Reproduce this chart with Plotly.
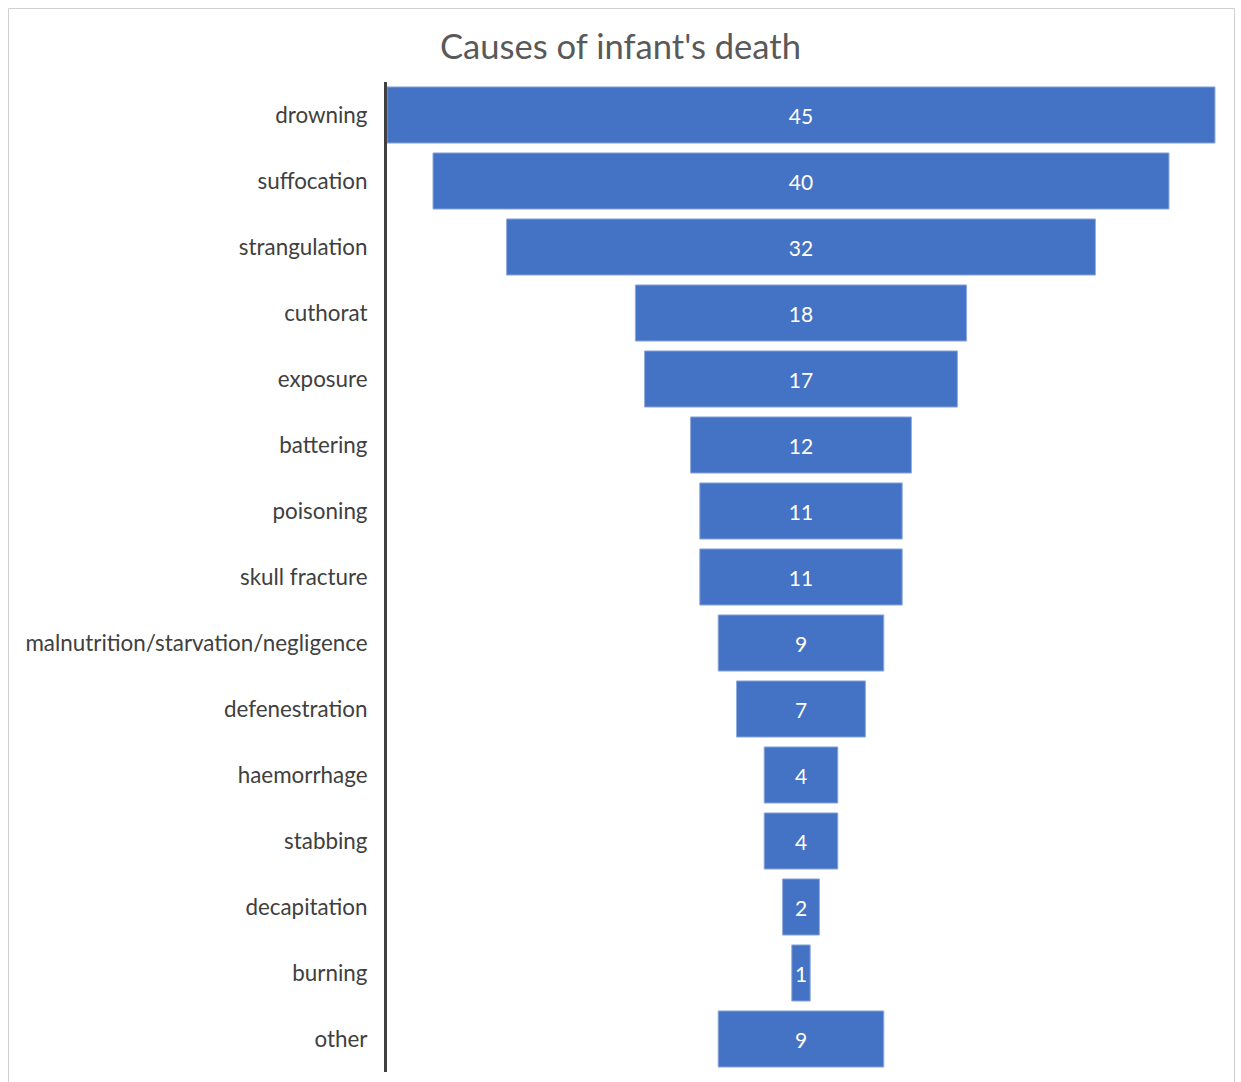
import plotly.graph_objects as go

categories = ["drowning", "suffocation", "strangulation", "cuthorat", "exposure",
              "battering", "poisoning", "skull fracture",
              "malnutrition/starvation/negligence", "defenestration", "haemorrhage",
              "stabbing", "decapitation", "burning", "other"]
values = [45, 40, 32, 18, 17, 12, 11, 11, 9, 7, 4, 4, 2, 1, 9]
title_text = "Causes of infant's death"

W, H = 1241, 1082
ML, MR, MT, MB = 387, 24, 82, 10
pw, ph = W - ML - MR, H - MT - MB

def px_x(p):
    return (p - ML) / pw

def px_y(p):
    return (H - MB - p) / ph

FONT = "Lato"

fig = go.Figure(go.Funnel(
    y=categories,
    x=values,
    textinfo="value",
    textposition="inside",
    insidetextanchor="middle",
    textfont=dict(family=FONT, size=21, color="white"),
    marker=dict(color="#4472C4", line=dict(color="#8EA9DB", width=1)),
    connector=dict(visible=False),
    hoverinfo="y+x",
))

fig.update_layout(
    width=W, height=H,
    margin=dict(l=ML, r=MR, t=MT, b=MB),
    paper_bgcolor="white",
    plot_bgcolor="white",
    funnelgap=0.15,
    showlegend=False,
    title=dict(text=title_text, x=0.5, xref="container", xanchor="center",
               y=1 - 47 / H, yref="container", yanchor="middle",
               font=dict(family=FONT, size=34.6, color="#595959")),
    font=dict(family=FONT),
    xaxis=dict(visible=False, range=[-22.5, 22.61]),
    yaxis=dict(showline=True, linecolor="#404040", linewidth=3,
               showgrid=False, ticks="", ticklabelstandoff=12,
               tickfont=dict(family=FONT, size=22.4, color="#404040")),
    shapes=[dict(type="rect", xref="paper", yref="paper",
                 x0=px_x(8.5), x1=px_x(1234.5), y0=px_y(1095), y1=px_y(8.5),
                 line=dict(color="#D0D0D0", width=1), fillcolor="rgba(0,0,0,0)",
                 layer="below")],
)

fig.write_html("out.html")
